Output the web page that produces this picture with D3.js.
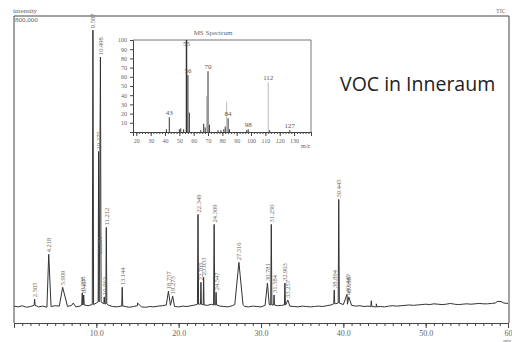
<!DOCTYPE html>
<html>
<head>
<meta charset="utf-8">
<script src="https://cdn.jsdelivr.net/npm/d3@7/dist/d3.min.js"></script>
<style>
  body { margin: 0; background: #fff; }
  svg { display: block; font-family: "Liberation Serif", serif; }
</style>
</head>
<body>
<svg id="chart" width="512" height="342"></svg>
<script>
// TIC baseline, one value (intensity) every 0.5 min from 0 to 60
const baseStep = 0.5;
const baseValues = [
  44000, 42000, 45000, 41000, 43000, 46000, 42000, 44000, 41000, 43000,
  45000, 44000, 42000, 43000, 46000, 42000, 44000, 47000, 45000, 48000,
  52000, 55000, 50000, 46000, 43000, 42000, 44000, 43000, 41000, 43000,
  45000, 42000, 41000, 43000, 42000, 44000, 45000, 47000, 46000, 43000,
  42000, 44000, 43000, 45000, 47000, 49000, 47000, 46000, 49000, 47000,
  44000, 43000, 42000, 45000, 52000, 48000, 43000, 42000, 44000, 43000,
  42000, 46000, 48000, 47000, 45000, 46000, 47000, 44000, 43000, 42000,
  44000, 43000, 42000, 43000, 44000, 43000, 45000, 47000, 50000, 52000,
  48000, 49000, 46000, 44000, 45000, 43000, 44000, 43000, 42000, 43000,
  42000, 44000, 45000, 44000, 45000, 46000, 47000, 46000, 47000, 48000,
  49000, 48000, 50000, 49000, 48000, 49000, 51000, 49000, 48000, 49000,
  50000, 49000, 50000, 51000, 50000, 50000, 51000, 52000, 56000, 52000, 51000
];

// peaks: retention time (min), height (intensity), width (min), label
const peakTimes   = [2.505, 4.218, 5.909, 7.2, 8.288, 8.467, 9.587, 10.275, 10.384, 10.498, 10.963, 11.212, 13.144, 15.0,
                     18.757, 19.273, 22.349, 22.705, 23.033, 24.309, 24.547, 27.316, 30.781, 31.250, 31.584, 32.903, 33.257,
                     38.894, 39.445, 40.449, 40.668, 43.4, 44.0, 58.9];
const peakHeights = [62000, 179000, 93000, 52000, 78000, 73000, 763000, 447000, 174000, 693000, 68000, 249000, 93000, 52000,
                     83000, 70000, 283000, 106000, 119000, 257000, 80000, 158000, 104000, 257000, 73000, 104000, 60000,
                     86000, 322000, 75000, 68000, 58000, 50000, 56000];
const peakWidths  = [0.06, 0.06, 0.1, 0.1, 0.06, 0.06, 0.08, 0.05, 0.05, 0.08, 0.06, 0.06, 0.06, 0.1,
                     0.06, 0.06, 0.07, 0.05, 0.05, 0.07, 0.05, 0.5, 0.06, 0.07, 0.05, 0.06, 0.05,
                     0.06, 0.07, 0.05, 0.05, 0.06, 0.1, 0.25];
const peakLabels  = ["2.505", "4.218", "5.909", "", "8.288", "8.467", "9.587", "10.275", "10.384", "10.498", "10.963", "11.212", "13.144", "",
                     "18.757", "19.273", "22.349", "22.705", "23.033", "24.309", "24.547", "27.316", "30.781", "31.250", "31.584", "32.903", "33.257",
                     "38.894", "39.445", "40.449", "40.668", "", "", ""];

const timeTicks = [10, 20, 30, 40, 50, 60];

// inset MS spectrum
const msMz    = [41, 43, 50, 51, 53, 55, 56, 57, 65, 67, 68, 69, 70, 71, 77, 79, 81, 82, 83, 84, 85, 97, 98, 112, 113, 127];
const msAbund = [3, 16, 3, 4, 3, 100, 62, 21, 2, 9, 5, 39, 66, 8, 2, 2, 3, 6, 33, 15, 3, 2, 3, 54, 2, 2];
const msFaint = [69, 83, 112];
const msLabels = [43, 55, 56, 70, 84, 98, 112, 127];
const mzTicks = [20, 30, 40, 50, 60, 70, 80, 90, 100, 110, 120, 130];
const abundTicks = [10, 20, 30, 40, 50, 60, 70, 80, 90, 100];

const svg = d3.select("#chart");
const ink = "#444";
const labelInk = "#666";

// ---------- main chromatogram ----------
const x = d3.scaleLinear().domain([0, 60]).range([14, 508]);
const y = d3.scaleLinear().domain([0, 800000]).range([323, 16]);

// frame
svg.append("path")
  .attr("d", `M${x(0)},${y(0)}V${y(800000)}H509V${y(0)}`)
  .attr("fill", "none").attr("stroke", ink).attr("stroke-width", 1);

svg.append("text").attr("x", 13).attr("y", 13).attr("font-size", 7).attr("fill", labelInk).text("intensity");
svg.append("text").attr("x", 15).attr("y", 22).attr("font-size", 7).attr("fill", labelInk).text("800,000");
svg.append("text").attr("x", 496).attr("y", 13).attr("font-size", 6).attr("fill", labelInk).text("TIC");

// x axis: minor ticks every minute, major every 10
const minorAxis = d3.axisBottom(x).tickValues(d3.range(1, 60)).tickSize(3).tickFormat("");
const majorAxis = d3.axisBottom(x).tickValues(timeTicks).tickSize(5)
  .tickFormat(d => d === 60 ? "60" : d3.format(".1f")(d));
[minorAxis, majorAxis].forEach(ax => {
  const g = svg.append("g").attr("transform", `translate(0,${y(0)})`).call(ax);
  g.select(".domain").attr("stroke", ink);
  g.selectAll(".tick line").attr("stroke", ink);
  g.selectAll(".tick text").attr("font-size", 8).attr("fill", labelInk)
    .attr("font-family", "Liberation Serif").attr("dy", "0.6em");
});
svg.selectAll(".tick text").filter(d => d === 60).attr("text-anchor", "end").attr("x", 4);
svg.append("text").attr("x", 511).attr("y", 342).attr("text-anchor", "end")
  .attr("font-size", 5).attr("fill", labelInk).text("min");

// trace = baseline points + peak triangles
const baseAt = t => baseValues[Math.min(baseValues.length - 1, Math.round(t / baseStep))];
const trace = baseValues.map((v, i) => [i * baseStep, v]);
peakTimes.forEach((t, i) => {
  const b = baseAt(t);
  trace.push([t - peakWidths[i], b], [t, peakHeights[i]], [t + peakWidths[i], b]);
});
trace.sort((a, b) => a[0] - b[0]);
// drop baseline points that fall inside a peak
const inPeak = p => peakTimes.some((t, i) => Math.abs(p[0] - t) < peakWidths[i] && p[0] !== t);
const cleanTrace = trace.filter(p => !inPeak(p));

svg.append("path")
  .datum(cleanTrace)
  .attr("fill", "none")
  .attr("stroke", "#333")
  .attr("stroke-width", 1)
  .attr("d", d3.line().x(d => x(d[0])).y(d => y(d[1])));

// peak labels, rotated, centred on the peak line
svg.append("g").selectAll("text")
  .data(peakTimes.map((t, i) => ({ t, h: peakHeights[i], label: peakLabels[i] })).filter(d => d.label))
  .join("text")
  .attr("transform", d => `translate(${x(d.t) + 2.5},${y(d.h) - 2}) rotate(-90)`)
  .attr("font-size", 6.5)
  .attr("fill", labelInk)
  .text(d => d.label);

// ---------- inset MS spectrum ----------
const mx = d3.scaleLinear().domain([17.7, 141.8]).range([133, 311]);
const my = d3.scaleLinear().domain([0, 100]).range([132, 40]);

svg.append("path")
  .attr("d", `M${mx(17.7)},${my(100)}H${mx(141.8)}V${my(0)}`)
  .attr("fill", "none").attr("stroke", "#777").attr("stroke-width", 1);

const insetAxes = [
  { ax: d3.axisLeft(my).tickValues(abundTicks).tickSize(3), tr: `translate(${mx(17.7)},0)` },
  { ax: d3.axisBottom(mx).tickValues(d3.range(20, 141, 2)).tickSize(2).tickFormat(""), tr: `translate(0,${my(0)})` },
  { ax: d3.axisBottom(mx).tickValues(mzTicks).tickSize(4), tr: `translate(0,${my(0)})` }
];
insetAxes.forEach(a => {
  const g = svg.append("g").attr("transform", a.tr).call(a.ax);
  g.select(".domain").attr("stroke", ink);
  g.selectAll(".tick line").attr("stroke", ink);
  g.selectAll(".tick text").attr("font-size", 6).attr("fill", labelInk).attr("font-family", "Liberation Serif");
});

svg.append("g").selectAll("line")
  .data(msMz.map((m, i) => ({ m, a: msAbund[i] })))
  .join("line")
  .attr("x1", d => mx(d.m)).attr("x2", d => mx(d.m))
  .attr("y1", my(0)).attr("y2", d => my(d.a))
  .attr("stroke", d => msFaint.includes(d.m) ? "#bbb" : "#333")
  .attr("stroke-width", d => d.a === 100 ? 1.5 : 1);

svg.append("g").selectAll("text")
  .data(msLabels.map(m => ({ m, a: msAbund[msMz.indexOf(m)] })))
  .join("text")
  .attr("x", d => mx(d.m))
  .attr("y", d => d.a === 100 ? my(d.a) + 6 : my(d.a) - 2)
  .attr("text-anchor", "middle")
  .attr("font-size", 7)
  .attr("fill", "#555")
  .text(d => d.m);

svg.append("text").attr("x", 213).attr("y", 35).attr("text-anchor", "middle")
  .attr("font-size", 7).attr("fill", labelInk).text("MS Spectrum");
svg.append("text").attr("x", 301).attr("y", 148)
  .attr("font-size", 6).attr("fill", labelInk).text("m/z");

// title
svg.append("text").attr("x", 340).attr("y", 91)
  .attr("font-family", "Open Sans, sans-serif").attr("font-size", 19.5).attr("fill", "#222")
  .text("VOC in Inneraum");
</script>
</body>
</html>
